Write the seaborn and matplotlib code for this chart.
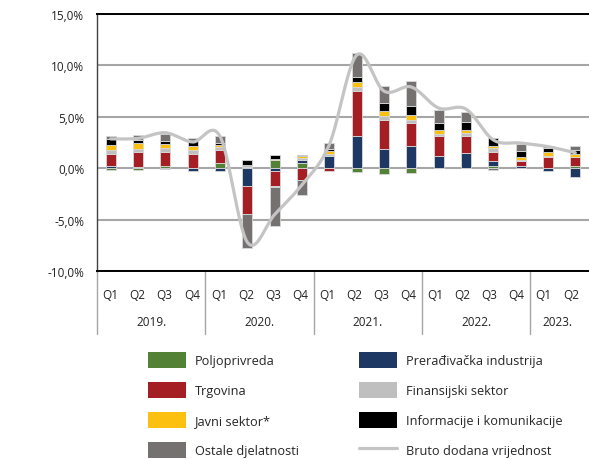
import matplotlib
matplotlib.use('Agg')
import matplotlib.pyplot as plt
import matplotlib.transforms as mtransforms
from matplotlib.patches import Patch
from matplotlib.lines import Line2D
import numpy as np
import seaborn as sns

quarters = ['Q1', 'Q2', 'Q3', 'Q4'] * 4 + ['Q1', 'Q2']
years = ['2019.', '2020.', '2021.', '2022.', '2023.']
periods = [f'{q} {2019 + i // 4}' for i, q in enumerate(quarters)]

# contributions to growth, percentage points
poljoprivreda = [-0.2, -0.2, 0.2, 0.05, 0.5, 0.15, 0.8, 0.5, 0.05, -0.4, -0.6, -0.5, 0.05, 0.05, 0.2, 0.05, 0.05, 0.2]
preradjivacka = [0.2, 0.1, -0.1, -0.3, -0.3, -1.7, -0.3, 0.3, 1.15, 3.1, 1.9, 2.15, 1.1, 1.45, 0.5, 0.15, -0.25, -0.9]
trgovina = [1.2, 1.45, 1.35, 1.35, 1.25, -2.8, -1.45, -1.15, -0.25, 4.4, 2.75, 2.2, 2.0, 1.65, 0.9, 0.5, 1.0, 0.85]
finansijski = [0.35, 0.3, 0.45, 0.4, 0.3, 0.15, -0.1, 0.15, 0.2, 0.4, 0.4, 0.3, 0.2, 0.3, 0.4, 0.1, 0.1, 0.05]
javni = [0.55, 0.65, 0.4, 0.4, 0.2, 0.05, 0.05, 0.2, 0.25, 0.5, 0.5, 0.5, 0.4, 0.25, 0.15, 0.3, 0.4, 0.3]
informacije = [0.5, 0.25, 0.2, 0.45, 0.2, 0.4, 0.4, 0.15, 0.2, 0.5, 0.75, 0.9, 0.6, 0.75, 0.75, 0.6, 0.4, 0.4]
ostale = [0.3, 0.45, 0.7, 0.3, 0.7, -3.25, -3.8, -1.45, 0.65, 2.3, 1.7, 2.4, 1.3, 1.05, -0.15, 0.7, 0.2, 0.4]
bdv = [2.85, 2.9, 3.45, 2.55, 3.1, -7.2, -4.5, -1.6, 2.3, 11.0, 7.5, 7.9, 5.85, 5.75, 2.75, 2.45, 2.1, 1.5]

series = [
    ('Poljoprivreda', poljoprivreda, '#538135'),
    ('Prerađivačka industrija', preradjivacka, '#1e3864'),
    ('Trgovina', trgovina, '#a51e24'),
    ('Finansijski sektor', finansijski, '#bfbfbf'),
    ('Javni sektor*', javni, '#fcc010'),
    ('Informacije i komunikacije', informacije, '#000000'),
    ('Ostale djelatnosti', ostale, '#767171'),
]
line_color = '#c4c4c4'

sns.set_style('white')
plt.rcParams['font.family'] = ['Open Sans', 'DejaVu Sans']

fig = plt.figure(figsize=(5.89, 4.60), dpi=100)
ax = fig.add_axes([97 / 589, 1 - 272 / 460, 492 / 589, 257 / 460])

n = len(periods)
pos = np.zeros(n)
neg = np.zeros(n)
for name, vals, color in series:
    v = np.array(vals, dtype=float)
    bottom = np.where(v >= 0, pos, neg)
    sns.barplot(x=periods, y=v, bottom=bottom, color=color, saturation=1,
                width=0.37, errorbar=None, edgecolor='#d9d9d9', linewidth=0.6, ax=ax)
    pos += np.clip(v, 0, None)
    neg += np.clip(v, None, 0)

# smoothed line (Excel-style bezier through the points)
P = np.column_stack([np.arange(n), bdv])
xs, ys = [], []
for i in range(n - 1):
    p0 = P[max(i - 1, 0)]
    p1 = P[i]
    p2 = P[i + 1]
    p3 = P[min(i + 2, n - 1)]
    c1 = p1 + (p2 - p0) / 6
    c2 = p2 - (p3 - p1) / 6
    t = np.linspace(0, 1, 25)[:, None]
    seg = (1 - t) ** 3 * p1 + 3 * (1 - t) ** 2 * t * c1 + 3 * (1 - t) * t ** 2 * c2 + t ** 3 * p2
    xs.extend(seg[:, 0])
    ys.extend(seg[:, 1])
ax.plot(xs, ys, color=line_color, lw=2.3, zorder=5, solid_capstyle='round')

ax.set_xlim(-0.5, n - 0.5)
ax.set_ylim(-10, 15)
ax.set_yticks(np.arange(-10, 16, 5))
ax.set_yticklabels([f'{v:.1f}%'.replace('.', ',') for v in np.arange(-10, 16, 5)])
ax.yaxis.grid(True, color='#a6a6a6', lw=1.5)
ax.set_axisbelow(True)
ax.tick_params(axis='y', length=0, pad=9, labelsize=8.5, labelcolor='#222222')
ax.set_xticks([])
ax.set_xlabel('')
ax.set_ylabel('')
for s in ['top', 'bottom']:
    ax.spines[s].set_color('black')
    ax.spines[s].set_linewidth(1.4)
ax.spines['left'].set_color('#404040')
ax.spines['left'].set_linewidth(1.0)
ax.spines['right'].set_visible(False)

# two-level category axis
trans = mtransforms.blended_transform_factory(ax.transData, ax.transAxes)
scale = 27.1 / 27.36
for i, q in enumerate(quarters):
    ax.text(-0.5 + (i + 0.5) * scale, -0.093, q, transform=trans, ha='center', va='center',
            fontsize=8.5, color='#222222')
for k, y in enumerate(years):
    span = 4 if k < 4 else 2
    ax.text(-0.5 + (4 * k + span / 2) * scale, -0.195, y, transform=trans, ha='center',
            va='center', fontsize=8.5, color='#222222')
for b in [0, 4, 8, 12, 16]:
    ax.plot([-0.5 + b * scale] * 2, [0, -0.245], transform=trans, color='#a6a6a6',
            lw=1.0, clip_on=False)

# legend, two columns
col1 = [(series[0][0], series[0][2]), (series[2][0], series[2][2]),
        (series[4][0], series[4][2]), (series[6][0], series[6][2])]
col2 = [(series[1][0], series[1][2]), (series[3][0], series[3][2]),
        (series[5][0], series[5][2])]
h1 = [Patch(facecolor=c, edgecolor='none') for _, c in col1]
h2 = [Patch(facecolor=c, edgecolor='none') for _, c in col2] + [Line2D([], [], color=line_color, lw=2.3)]
l2 = [nm for nm, _ in col2] + ['Bruto dodana vrijednost']
common = dict(frameon=False, fontsize=9.2, handlelength=2.97, handleheight=1.55,
              handletextpad=0.7, labelspacing=1.1, borderpad=0, borderaxespad=0,
              loc='upper left')
fig.legend(h1, [nm for nm, _ in col1], bbox_to_anchor=(148 / 589, 1 - 353 / 460), **common)
fig.legend(h2, l2, bbox_to_anchor=(359 / 589, 1 - 353 / 460), **common)

fig.savefig('out.png', dpi=100)
